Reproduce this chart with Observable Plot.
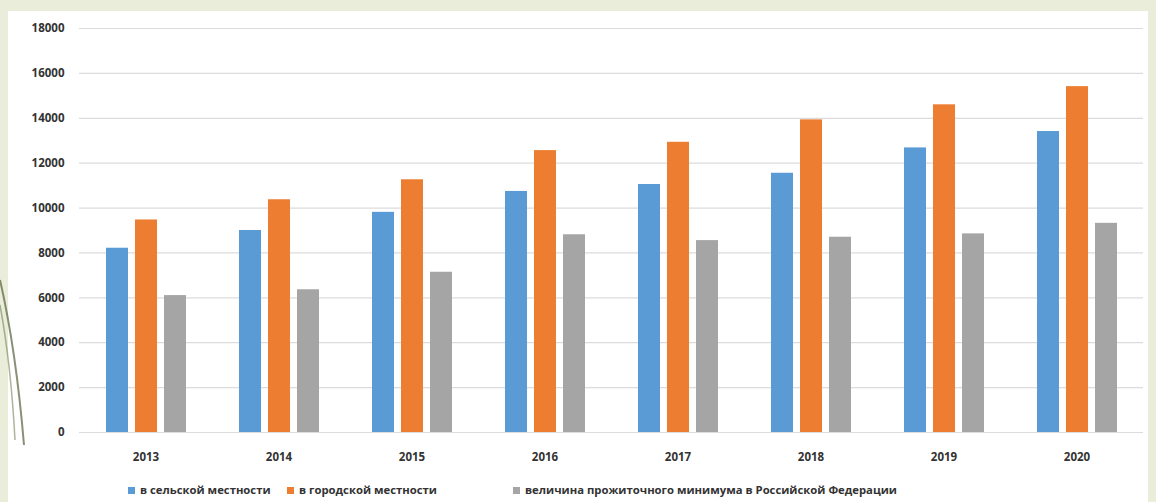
<!DOCTYPE html>
<html>
<head>
<meta charset="utf-8">
<script src="https://cdn.jsdelivr.net/npm/d3@7"></script>
<script src="https://cdn.jsdelivr.net/npm/@observablehq/plot@0.6"></script>
<style>
  html, body { margin: 0; padding: 0; }
  body { width: 1156px; height: 502px; overflow: hidden; background: #e9edd9; position: relative;
         font-family: "Open Sans", sans-serif; }
  #panel { position: absolute; left: 8px; top: 11px; width: 1140px; height: 491px; background: #fff; }
  #deco { position: absolute; left: 0; top: 0; }
  #chart { position: absolute; left: 0; top: 0; }
  #legend { position: absolute; left: 0; top: 480px; width: 1156px; height: 20px;
            font-size: 11.3px; font-weight: 700; color: #333; line-height: 20px; }
  #legend .item { position: absolute; top: 0; display: flex; align-items: center; white-space: nowrap; }
  #legend .sw { width: 7px; height: 7px; margin-right: 5px; }
</style>
</head>
<body>
<div id="panel"></div>
<svg id="deco" width="40" height="502">
  <path d="M0,280 Q16,350 24,445" fill="none" stroke="#55633a" stroke-width="2" opacity="0.7"/>
  <path d="M0,305 Q11,365 15,440" fill="none" stroke="#6b7848" stroke-width="1.5" opacity="0.55"/>
</svg>
<div id="chart"></div>
<div id="legend"></div>
<script>
const years = ["2013", "2014", "2015", "2016", "2017", "2018", "2019", "2020"];
const seriesNames = [
  "в сельской местности",
  "в городской местности",
  "величина прожиточного минимума в Российской Федерации"
];
const rural   = [8210, 9000, 9810, 10740, 11050, 11550, 12680, 13410];
const urban   = [9470, 10370, 11260, 12560, 12930, 13930, 14600, 15410];
const minimum = [6100, 6360, 7140, 8810, 8550, 8700, 8850, 9320];
const colors = ["#5b9bd5", "#ed7d31", "#a5a5a5"];
const yTicks = [0, 2000, 4000, 6000, 8000, 10000, 12000, 14000, 16000, 18000];

const seriesValues = [rural, urban, minimum];
const data = [];
years.forEach((yr, i) => {
  seriesNames.forEach((s, j) => data.push({year: yr, series: s, value: seriesValues[j][i]}));
});

const chart = Plot.plot({
  width: 1156,
  height: 470,
  marginLeft: 77,
  marginRight: 11,
  marginTop: 28,
  marginBottom: 38,
  style: { background: "transparent", fontFamily: "Open Sans, sans-serif", fontSize: "11.5px", fontWeight: 700, color: "#333" },
  fx: { domain: years, padding: 0, label: null, axis: "bottom", tickSize: 0, tickPadding: 20 },
  x: { domain: seriesNames, paddingInner: 0.25, paddingOuter: 0.9, axis: null },
  y: { domain: [0, 18000], ticks: yTicks, label: null, tickSize: 0, tickPadding: 15, tickFormat: d => String(d) },
  color: { domain: seriesNames, range: colors },
  marks: [
    Plot.gridY(yTicks, { stroke: "#dcdcdc", strokeOpacity: 1, strokeWidth: 1.2 }),
    Plot.barY(data, { fx: "year", x: "series", y: "value", fill: "series" })
  ]
});
document.getElementById("chart").appendChild(chart);

const legendLeft = [128, 287, 513];
const legend = document.getElementById("legend");
seriesNames.forEach((s, j) => {
  const it = document.createElement("div");
  it.className = "item";
  it.style.left = legendLeft[j] + "px";
  const sw = document.createElement("span");
  sw.className = "sw";
  sw.style.background = colors[j];
  const tx = document.createElement("span");
  tx.textContent = s;
  it.appendChild(sw);
  it.appendChild(tx);
  legend.appendChild(it);
});
</script>
</body>
</html>
